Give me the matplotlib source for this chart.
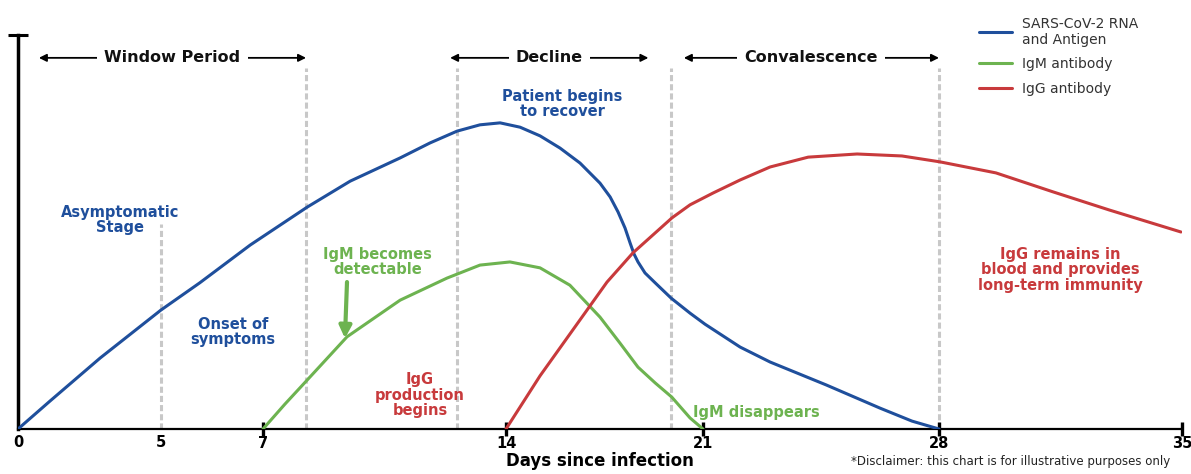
import numpy as np
import matplotlib
matplotlib.use("Agg")
import matplotlib.pyplot as plt

# ========== DATA ==========
# tick days and where the original illustration puts them (it is not evenly spaced)
tick_days = [0, 5, 7, 14, 21, 28, 35]
tick_pos = [18, 161, 263, 506, 703, 939, 1182]

# SARS-CoV-2 RNA and antigen
days_rna = [0, 1.12, 2.87, 5.0, 5.76, 6.75, 8.27, 9.51, 10.95, 11.81, 12.59, 13.25,
            13.83, 14.5, 15.21, 15.92, 16.63, 17.34, 17.7, 17.98, 18.23, 18.41, 18.55,
            18.69, 18.94, 19.3, 19.87, 20.54, 21.06, 22.1, 22.99, 24.65, 26.25, 27.2, 28]
level_rna = [0, 7.1, 18.0, 30.2, 37.1, 46.7, 56.3, 62.9, 68.8, 72.6, 75.6, 77.2,
             77.7, 76.6, 74.4, 71.3, 67.5, 62.4, 58.9, 55.1, 51.0, 47.2, 44.4,
             42.4, 39.6, 37.1, 33.2, 29.4, 26.6, 20.8, 17.0, 11.2, 5.3, 2.0, 0]

# IgM antibody
days_igm = [7, 7.63, 8.27, 9.42, 10.95, 12.3, 13.25, 14.14, 15.21, 16.27, 17.34,
            18.05, 18.69, 19.3, 19.89, 20.54, 21]
level_igm = [0, 6.3, 12.4, 23.4, 32.7, 38.3, 41.6, 42.4, 40.9, 36.5, 28.4,
             21.8, 15.7, 11.7, 8.1, 2.8, 0]

# IgG antibody
days_igg = [14, 15.21, 15.92, 16.63, 17.59, 18.51, 19.9, 20.54, 21.3, 22.1, 22.99,
            24.12, 25.57, 26.9, 28.03, 29.64, 31.28, 32.9, 34.97]
level_igg = [0, 13.5, 20.6, 27.7, 37.3, 44.7, 53.6, 56.9, 59.9, 63.2, 66.5,
             69.0, 69.8, 69.3, 67.8, 65.0, 60.2, 55.6, 50.0]

# phase boundaries (days)
phase_lines = [5, 8.24, 12.59, 19.86, 28]
phases = [("Window Period", 0.73, 8.24), ("Decline", 12.39, 19.06),
          ("Convalescence", 20.32, 28)]

BLUE = "#1f4f9c"
GREEN = "#6db350"
RED = "#c83a3c"
GREY = "#c8c8c8"

# ========== PLOT ==========
fig = plt.figure(figsize=(11.91, 4.74), dpi=100)
ax = fig.add_axes([18 / 1191, 45 / 474, 1164 / 1191, 394 / 474])

fwd = lambda x: np.interp(x, tick_days, tick_pos)
inv = lambda x: np.interp(x, tick_pos, tick_days)
ax.set_xscale("function", functions=(fwd, inv))
ax.set_xlim(0, 35)
ax.set_ylim(0, 100)

# dashed phase boundaries
for d in phase_lines:
    top = 52 if d == 5 else 91.6
    ax.plot([d, d], [0, top], color=GREY, lw=2.2, ls=(0, (2, 1)), zorder=1)

ax.plot(days_rna, level_rna, color=BLUE, lw=2.2, label="SARS-CoV-2 RNA\nand Antigen",
        solid_capstyle="round", solid_joinstyle="round", zorder=3)
ax.plot(days_igm, level_igm, color=GREEN, lw=2.2, label="IgM antibody",
        solid_capstyle="round", solid_joinstyle="round", zorder=3)
ax.plot(days_igg, level_igg, color=RED, lw=2.2, label="IgG antibody",
        solid_capstyle="round", solid_joinstyle="round", zorder=3)

# phase headers with arrows
for name, x0, x1 in phases:
    ax.annotate("", xy=(x0, 94.2), xytext=(x1, 94.2),
                arrowprops=dict(arrowstyle="<|-|>", color="black", lw=1.3,
                                mutation_scale=11, shrinkA=0, shrinkB=0))
    xm = inv((fwd(x0) + fwd(x1)) / 2)
    ax.text(xm, 94.2, name, ha="center", va="center", fontsize=11.5,
            fontweight="bold", color="#111111", zorder=4,
            bbox=dict(boxstyle="square,pad=0.45", fc="white", ec="none"))

# annotations
kw = dict(ha="center", va="center", fontsize=10.5, fontweight="bold", linespacing=1.05)
ax.text(15.99, 82.5, "Patient begins\nto recover", color=BLUE, **kw)
ax.text(3.57, 53.0, "Asymptomatic\nStage", color=BLUE, **kw)
ax.text(6.41, 24.6, "Onset of\nsymptoms", color=BLUE, **kw)
ax.text(10.31, 42.4, "IgM becomes\ndetectable", color=GREEN, **kw)
ax.text(11.52, 8.6, "IgG\nproduction\nbegins", color=RED, **kw)
ax.text(31.49, 40.4, "IgG remains in\nblood and provides\nlong-term immunity", color=RED, **kw)
ax.text(20.64, 4.1, "IgM disappears", color=GREEN, ha="left", va="center",
        fontsize=10.5, fontweight="bold")
ax.annotate("", xy=(9.36, 23.0), xytext=(9.42, 37.3),
            arrowprops=dict(arrowstyle="-|>", color=GREEN, lw=3,
                            mutation_scale=18, shrinkA=0, shrinkB=0))

# axes styling
for s in ["top", "right"]:
    ax.spines[s].set_visible(False)
ax.spines["left"].set_linewidth(2.5)
ax.spines["bottom"].set_linewidth(1.6)
ax.set_xticks([7, 14, 21, 28, 35])
ax.set_xticks([0, 5], minor=True)
ax.set_xticklabels(["7", "14", "21", "28", "35"], fontweight="bold", fontsize=10.5)
ax.set_xticklabels(["0", "5"], minor=True, fontweight="bold", fontsize=10.5)
ax.tick_params(axis="x", which="major", direction="inout", length=10, width=2.4, pad=0)
ax.tick_params(axis="x", which="minor", length=0, pad=4.5)
ax.set_yticks([100])
ax.set_yticklabels([""])
ax.tick_params(axis="y", direction="inout", length=14, width=2.2)
ax.set_xlabel("Days since infection", fontsize=12, fontweight="bold", labelpad=1)

fig.legend(loc="upper left", bbox_to_anchor=(966 / 1191, 1 - 4 / 474), frameon=False,
           fontsize=10, handlelength=2.4, handletextpad=0.7, labelspacing=0.75,
           labelcolor="#333333")
fig.text(1170 / 1191, 6 / 474, "*Disclaimer: this chart is for illustrative purposes only",
         ha="right", va="bottom", fontsize=8.5, color="#222222")

fig.savefig("out.png", dpi=100)
